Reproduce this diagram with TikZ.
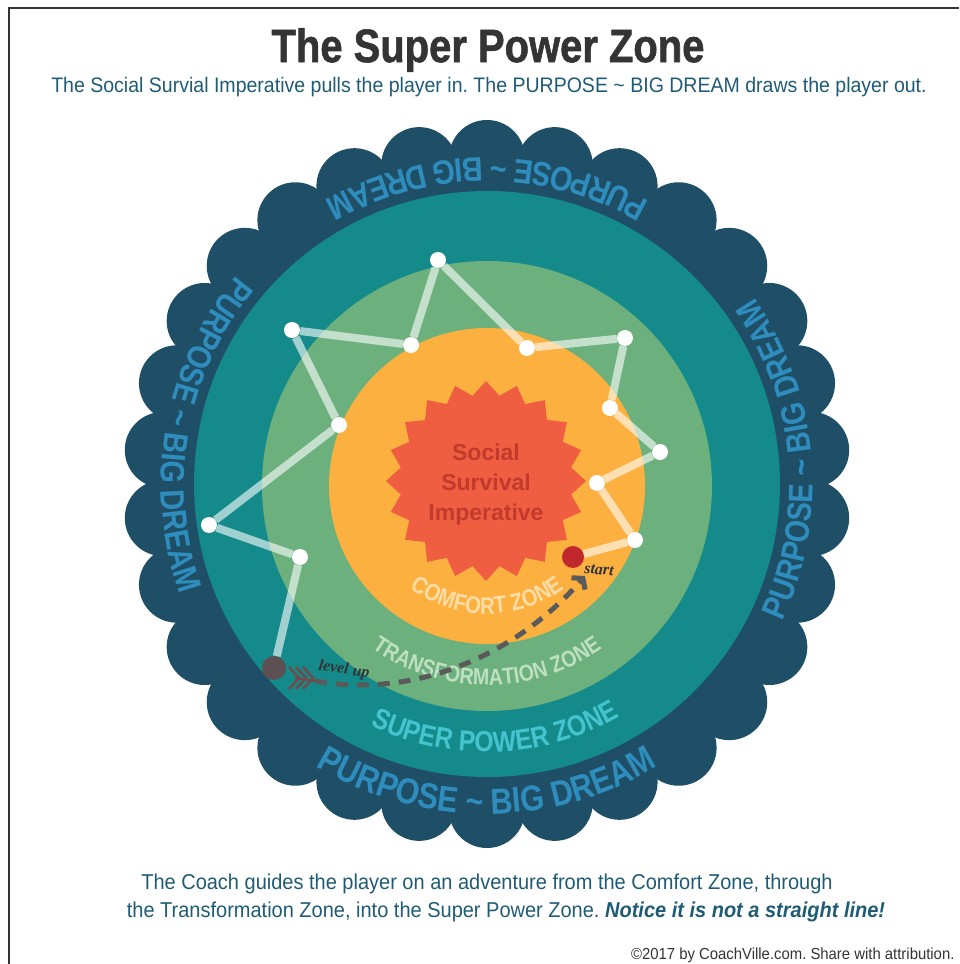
\documentclass[tikz,border=0pt]{standalone}
\usepackage{fontspec}
\setmainfont{Liberation Sans}
\newfontfamily\condfont{Liberation Sans}[FakeStretch=0.85]
\newfontfamily\notefont{Liberation Sans}[FakeStretch=0.93]
\newfontfamily\titlefont{Liberation Sans Bold}[FakeStretch=0.85, FakeBold=1.2]
\newfontfamily\cursivefont{Liberation Serif}
\usetikzlibrary{shapes.geometric,decorations.text,arrows.meta}

\definecolor{ringnavy}{HTML}{1E4F66}
\definecolor{ringteal}{HTML}{148B8A}
\definecolor{ringgreen}{HTML}{6CB07D}
\definecolor{ringorange}{HTML}{FBB03F}
\definecolor{starred}{HTML}{F05E42}
\definecolor{startxt}{HTML}{C23A2C}
\definecolor{dreamblue}{HTML}{2E8DBD}
\definecolor{spzcyan}{HTML}{45C3CF}
\definecolor{tzgreen}{HTML}{BFE0C0}
\definecolor{czcream}{HTML}{FDDDA5}
\definecolor{inkblue}{HTML}{1F5B74}
\definecolor{titlegray}{HTML}{343434}
\definecolor{trekgray}{HTML}{5A5A5A}
\definecolor{fletch}{HTML}{6F4B4B}
\definecolor{enddot}{HTML}{5C5052}
\definecolor{startdot}{HTML}{C0282D}

\newcommand{\ringfmt}[2]{\condfont\bfseries\fontsize{#1}{#1}\selectfont\color{#2}}
\frenchspacing

\begin{document}
\begin{tikzpicture}[x=1pt, y=1pt,
    waypt/.style={circle, fill=white, inner sep=0pt, minimum size=16pt},
    trail/.style={white, opacity=0.6, line width=8pt},
    trek/.style={trekgray, line width=5pt, dash pattern=on 12pt off 9pt},
    note/.style={inkblue, font=\notefont\fontsize{21.5}{24}\selectfont}]
    \useasboundingbox (-487,-480) rectangle (472,484);
    \draw[titlegray, line width=1.5pt] (-478,-480) -- (-478,476) -- (472,476);

    % Headings %
    \node[titlegray, font=\titlefont\fontsize{47}{50}\selectfont] (title) at (1,434) {The Super Power Zone};
    \node[note, font=\notefont\fontsize{21}{24}\selectfont] (sub) at (2,397) {The Social Survial Imperative pulls the player in. The PURPOSE \textasciitilde{} BIG DREAM draws the player out.};

    % Badge %
    \fill[ringnavy] (0,0) circle[radius=326];
    \foreach \a in {0,...,29}
        \fill[ringnavy] (90+12*\a:326) circle[radius=38];
    \fill[ringteal] (0,0) circle[radius=293];
    \fill[ringgreen] (0,-2) circle[radius=225];
    \fill[ringorange] (0,-2) circle[radius=158];
    \node[star, star points=20, star point ratio=1.16, minimum size=200pt, inner sep=0pt,
        fill=starred] (ssi) at (-1,3) {};
    \node[text=startxt, align=center, font=\bfseries\fontsize{23}{30}\selectfont] (ssitext) at (-1,-1) {Social\\Survival\\Imperative};

    % Ring texts %
    \foreach \a in {90,170,5}
        \path[decorate, decoration={text along path, text align=center,
            text={|\ringfmt{34}{dreamblue}|PURPOSE {\textasciitilde} BIG DREAM}}]
            (\a-50:326) arc[start angle=\a-50, end angle=\a+50, radius=326];
    \path[decorate, decoration={text along path, text align=center,
        text={|\ringfmt{36}{dreamblue}|PURPOSE {\textasciitilde} BIG DREAM}}]
        (220:330) arc[start angle=220, end angle=320, radius=330];
    \path[decorate, decoration={text along path, text align=center,
        text={|\ringfmt{29}{spzcyan}|SUPER POWER ZONE}}]
        (212:268) arc[start angle=212, end angle=332, radius=268];
    \path[decorate, decoration={text along path, text align=center,
        text={|\ringfmt{23}{tzgreen}|TRANSFORMATION ZONE}}]
        (200:201) arc[start angle=200, end angle=340, radius=201];
    \path[decorate, decoration={text along path, text align=center,
        text={|\ringfmt{24}{czcream}|COMFORT ZONE}}]
        (190:130) arc[start angle=190, end angle=350, radius=130];

    % Journey %
    \node[circle, fill=startdot, inner sep=0pt, minimum size=22pt] (j0) at (86,-73) {};
    \node[waypt] (j1) at (148,-56) {};
    \node[waypt] (j2) at (110,1) {};
    \node[waypt] (j3) at (173,32) {};
    \node[waypt] (j4) at (123,76) {};
    \node[waypt] (j5) at (138,146) {};
    \node[waypt] (j6) at (40,136) {};
    \node[waypt] (j7) at (-49,224) {};
    \node[waypt] (j8) at (-76,139) {};
    \node[waypt] (j9) at (-195,154) {};
    \node[waypt] (j10) at (-148,59) {};
    \node[waypt] (j11) at (-278,-41) {};
    \node[waypt] (j12) at (-187,-73) {};
    \node[circle, fill=enddot, inner sep=0pt, minimum size=24pt] (j13) at (-213,-184) {};
    \draw[trail] (j0) -- (j1) -- (j2) -- (j3) -- (j4) -- (j5) -- (j6) -- (j7)
        -- (j8) -- (j9) -- (j10) -- (j11) -- (j12) -- (j13);

    \node[font=\cursivefont\bfseries\itshape\fontsize{16}{16}\selectfont, text=titlegray, rotate=-4] (lstart) at (112,-86) {start};
    \node[font=\cursivefont\bfseries\itshape\fontsize{16}{16}\selectfont, text=titlegray, rotate=-8] (llevel) at (-143,-186) {level up};

    % Level up arrow %
    \coordinate (tail) at (-172,-197);
    \coordinate (tip) at (98,-92);
    \draw[trek, -{Straight Barb[length=7pt, width=18pt]}] (tail) .. controls (-70,-215) and (30,-170) .. (tip);
    \foreach \k in {0,1,2}
        \draw[fletch, line width=2.5pt] (-198+7*\k,-183) -- (-188+7*\k,-194) -- (-198+7*\k,-205);
    \draw[fletch, line width=2.5pt] (-192,-194) -- (tail);

    % Footer %
    \node[note] (foot1) at (0,-400) {The Coach guides the player on an adventure from the Comfort Zone, through};
    \node[note] (foot2) at (19,-428) {the Transformation Zone, into the Super Power Zone. \textbf{\textit{Notice it is not a straight line!}}};
    \node[anchor=east, titlegray, font=\notefont\fontsize{16}{18}\selectfont] (copy) at (471,-471) {\textcopyright2017 by CoachVille.com. Share with attribution.};
\end{tikzpicture}
\end{document}
